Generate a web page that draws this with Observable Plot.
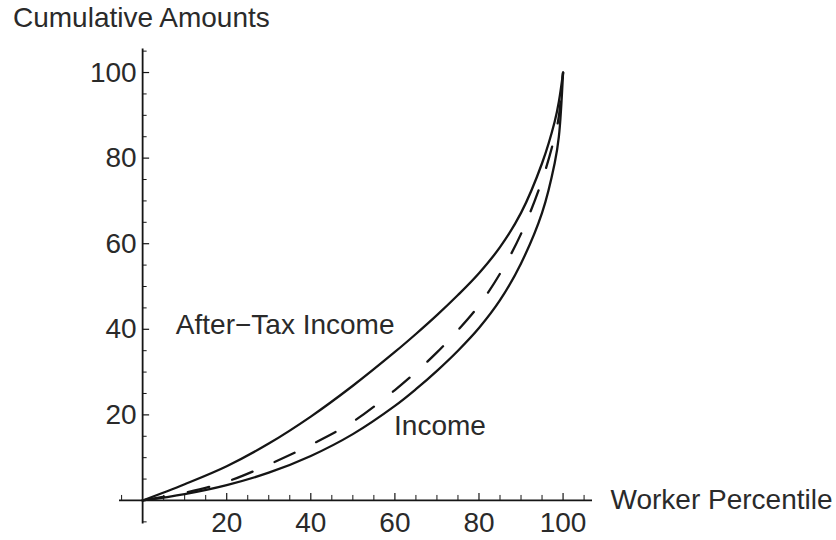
<!DOCTYPE html>
<html>
<head>
<meta charset="utf-8">
<script src="https://cdn.jsdelivr.net/npm/d3@7"></script>
<script src="https://cdn.jsdelivr.net/npm/@observablehq/plot@0.6"></script>
<style>
  html, body { margin: 0; padding: 0; background: #fff; }
  #wrap { position: relative; width: 836px; height: 540px; }
  #title {
    position: absolute; left: 13px; top: 2px;
    font-family: "Liberation Sans", Arial, sans-serif;
    font-size: 28px; color: #2a2a2a; white-space: nowrap;
  }
</style>
</head>
<body>
<div id="wrap">
  <div id="title">Cumulative Amounts</div>
</div>
<script>
// Lorenz-style cumulative shares by worker percentile
const percentiles    = [0, 10, 20, 30, 40, 50, 60, 65, 70, 75, 80, 85, 90, 95, 98, 99, 100];
const afterTaxIncome = [0, 3.8, 8.0, 13.3, 19.6, 26.8, 34.7, 38.9, 43.3, 48.0, 53.1, 59.2, 67.2, 78.8, 88.5, 93.2, 100];
const income         = [0, 1.5, 3.6, 6.5, 10.4, 15.5, 22.1, 26.0, 30.3, 35.0, 40.3, 46.8, 55.4, 67.2, 78.8, 85.0, 100];
const dashedCurve    = [0, 1.8, 4.4, 8.4, 13.0, 18.4, 25.8, 30.0, 34.6, 39.8, 45.6, 53.0, 62.3, 74.8, 85.0, 89.8, 100];

// Axis ticks
const xMajor = [20, 40, 60, 80, 100];
const xMinor = [-5, 5, 10, 15, 25, 30, 35, 45, 50, 55, 65, 70, 75, 85, 90, 95, 105];
const yMajor = [20, 40, 60, 80, 100];
const yMinor = [-5, 5, 10, 15, 25, 30, 35, 45, 50, 55, 65, 70, 75, 85, 90, 95, 105];

// Curve labels
const annotations = [
  {text: "After\u2212Tax Income", x: 7.9, y: 40.9},
  {text: "Income", x: 59.8, y: 17.5}
];
const xAxisTitle = "Worker Percentile";

const xDomain = [-5.5, 107];
const yDomain = [-5.5, 105.5];

const rows = (vals) => percentiles.map((p, i) => ({p, v: vals[i]}));

const W = 836, H = 540;
const mL = 119, mR = W - 592, mT = 48.5, mB = H - 523.5;
const pxX = (W - mL - mR) / (xDomain[1] - xDomain[0]);
const pxY = (H - mT - mB) / (yDomain[1] - yDomain[0]);

const ink = "#151515";
const textInk = "#2a2a2a";
const font = "Liberation Sans, Arial, sans-serif";
const fs = 28;

const chart = Plot.plot({
  width: W, height: H,
  marginLeft: mL, marginRight: mR, marginTop: mT, marginBottom: mB,
  x: {domain: xDomain, axis: null},
  y: {domain: yDomain, axis: null},
  style: {fontFamily: font, background: "transparent"},
  marks: [
    // axis lines crossing at the origin
    Plot.ruleY([0], {x1: xDomain[0], x2: xDomain[1], stroke: ink, strokeWidth: 1.8}),
    Plot.ruleX([0], {y1: yDomain[0], y2: yDomain[1], stroke: ink, strokeWidth: 1.8}),
    // inward ticks
    Plot.ruleX(xMajor, {y1: 0, y2: 7 / pxY, stroke: ink, strokeWidth: 1.2}),
    Plot.ruleX(xMinor, {y1: 0, y2: 5 / pxY, stroke: ink, strokeWidth: 1}),
    Plot.ruleY(yMajor, {x1: 0, x2: 7 / pxX, stroke: ink, strokeWidth: 1.2}),
    Plot.ruleY(yMinor, {x1: 0, x2: 4.5 / pxX, stroke: ink, strokeWidth: 1}),
    // tick labels
    Plot.text(xMajor, {x: d => d, y: 0, text: d => String(d), dy: 23, fontSize: fs, fill: textInk, textAnchor: "middle", lineAnchor: "middle"}),
    Plot.text(yMajor, {x: 0, y: d => d, text: d => String(d), dx: -6, fontSize: fs, fill: textInk, textAnchor: "end", lineAnchor: "middle"}),
    Plot.text([xAxisTitle], {x: xDomain[1], y: 0, text: d => d, dx: 18, fontSize: fs, fill: textInk, textAnchor: "start", lineAnchor: "middle"}),
    // curves
    Plot.line(rows(income), {x: "p", y: "v", stroke: ink, strokeWidth: 2.3, curve: "catmull-rom"}),
    Plot.line(rows(afterTaxIncome), {x: "p", y: "v", stroke: ink, strokeWidth: 2.3, curve: "catmull-rom"}),
    Plot.line(rows(dashedCurve), {x: "p", y: "v", stroke: ink, strokeWidth: 2.3, strokeDasharray: "22,24", curve: "catmull-rom"}),
    // curve labels
    Plot.text(annotations, {x: "x", y: "y", text: "text", fontSize: fs, fill: textInk, textAnchor: "start", lineAnchor: "middle"})
  ]
});

chart.style.position = "absolute";
chart.style.left = "0px";
chart.style.top = "0px";
document.getElementById("wrap").appendChild(chart);
</script>
</body>
</html>
